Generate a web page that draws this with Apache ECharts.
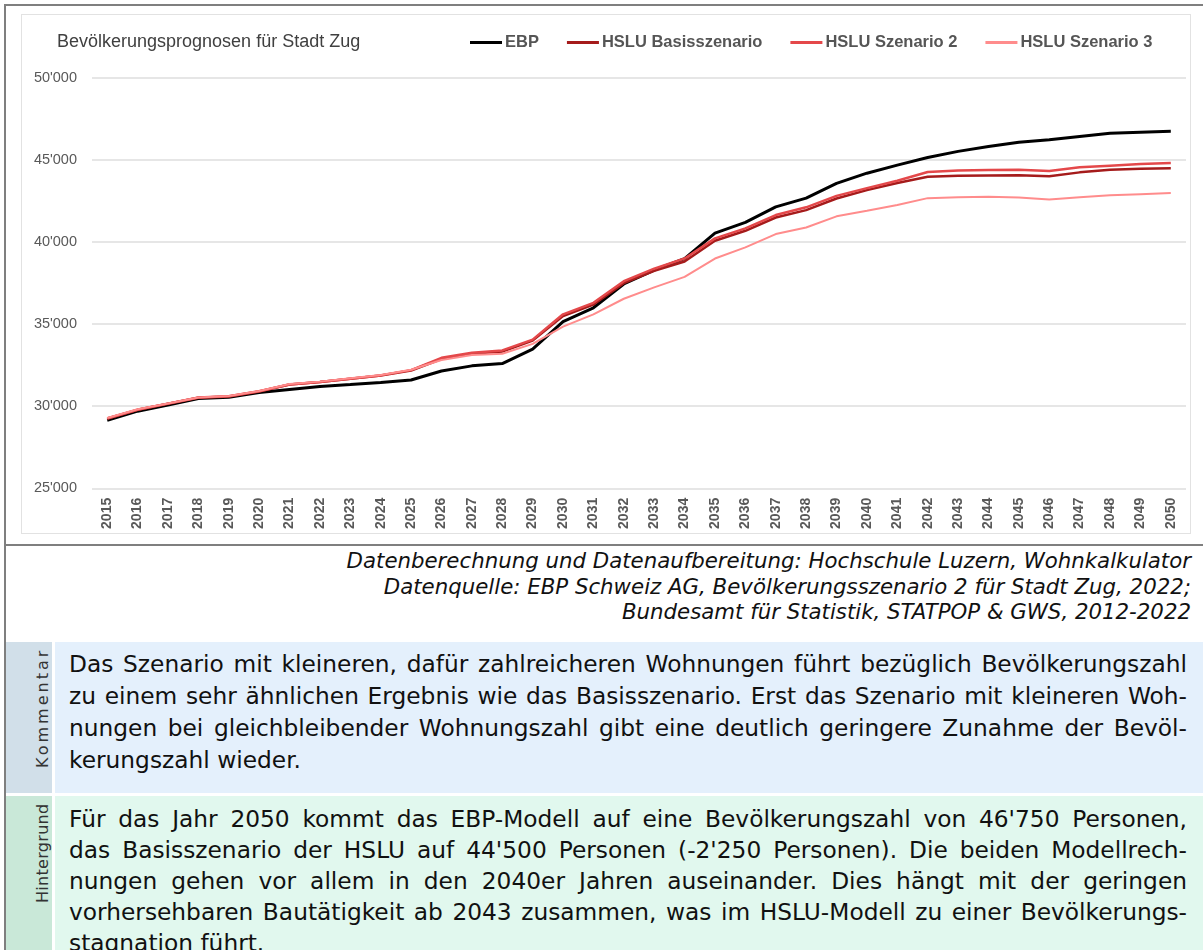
<!DOCTYPE html>
<html>
<head>
<meta charset="utf-8">
<script src="https://cdn.jsdelivr.net/npm/echarts@6/dist/echarts.min.js"></script>
<style>
  html, body { margin: 0; padding: 0; background: #fff; }
  body { width: 1203px; height: 950px; position: relative; overflow: hidden; font-family: "DejaVu Sans", Verdana, sans-serif; color: #111; }
  #topline { position: absolute; left: 4px; top: 4px; width: 1199px; height: 2px; background: #7f7f7f; }
  #midline { position: absolute; left: 4px; top: 544px; width: 1199px; height: 2px; background: #7f7f7f; }
  #leftline { position: absolute; left: 4px; top: 4px; width: 2px; height: 946px; background: #7f7f7f; }
  #chart { position: absolute; left: 21px; top: 14px; width: 1170px; height: 520px; border: 1px solid #e2e2e2; box-sizing: border-box; }
  #source { position: absolute; right: 12px; top: 548px; text-align: right; font-style: italic; font-size: 21.3px; line-height: 25.5px; color: #111; white-space: nowrap; }
  .panel { position: absolute; left: 6px; width: 1197px; }
  .panel .lab { position: absolute; left: 0; top: 0; bottom: 0; width: 46px; }
  .panel .lab span { position: absolute; left: 29px; transform-origin: 0 0; transform: rotate(-90deg); white-space: nowrap; font-size: 16px; line-height: 16px; color: #333; }
  .panel .txt { position: absolute; left: 49px; top: 0; bottom: 0; right: 0; padding: 6px 16px 0 14px; font-size: 23.3px; line-height: 32px; }
  .txt div { white-space: nowrap; text-align: justify; text-align-last: justify; }
  .txt div.last { text-align-last: left; }
  #komm { top: 642px; height: 151px; }
  #komm .lab { background: #d1dfe9; }
  #komm .txt { background: #e4f0fc; }
  #komm .lab span { top: 126px; letter-spacing: 3px; }
  #hint { top: 796px; height: 154px; }
  #hint .lab { background: #c9e8d8; }
  #hint .lab span { top: 107px; letter-spacing: 0.3px; }
  #hint .txt { background: #e1f8ee; line-height: 31px; padding-top: 7px; }
</style>
</head>
<body>
<div id="topline"></div>
<div id="midline"></div>
<div id="leftline"></div>
<div id="chart"></div>
<div id="source">
  Datenberechnung und Datenaufbereitung: Hochschule Luzern, Wohnkalkulator<br>
  Datenquelle: EBP Schweiz AG, Bevölkerungsszenario 2 für Stadt Zug, 2022;<br>
  Bundesamt für Statistik, STATPOP &amp; GWS, 2012-2022
</div>
<div class="panel" id="komm">
  <div class="lab"><span>Kommentar</span></div>
  <div class="txt">
    <div>Das Szenario mit kleineren, dafür zahlreicheren Wohnungen führt bezüglich Bevölkerungszahl</div>
    <div>zu einem sehr ähnlichen Ergebnis wie das Basisszenario. Erst das Szenario mit kleineren Woh-</div>
    <div>nungen bei gleichbleibender Wohnungszahl gibt eine deutlich geringere Zunahme der Bevöl-</div>
    <div class="last">kerungszahl wieder.</div>
  </div>
</div>
<div class="panel" id="hint">
  <div class="lab"><span>Hintergrund</span></div>
  <div class="txt">
    <div>Für das Jahr 2050 kommt das EBP-Modell auf eine Bevölkerungszahl von 46'750 Personen,</div>
    <div>das Basisszenario der HSLU auf 44'500 Personen (-2'250 Personen). Die beiden Modellrech-</div>
    <div>nungen gehen vor allem in den 2040er Jahren auseinander. Dies hängt mit der geringen</div>
    <div>vorhersehbaren Bautätigkeit ab 2043 zusammen, was im HSLU-Modell zu einer Bevölkerungs-</div>
    <div class="last">stagnation führt.</div>
  </div>
</div>
<script>
// Jahre 2015 - 2050
var years = [];
for (var y = 2015; y <= 2050; y++) years.push(String(y));

// Werte
var ebp = [29150, 29700, 30080, 30470, 30550, 30840, 31020, 31200, 31320, 31450, 31600,
  32150, 32460, 32600, 33480, 35150, 36000, 37450, 38300, 39000, 40550,
  41200, 42150, 42680, 43580, 44200, 44690, 45160, 45530, 45830, 46080,
  46240, 46440, 46640, 46700, 46750];
var hsluBasis = [29250, 29780, 30150, 30520, 30600, 30900, 31320, 31470, 31670, 31870, 32180,
  32880, 33200, 33330, 34000, 35500, 36200, 37500, 38250, 38820, 40080,
  40690, 41500, 41950, 42660, 43170, 43600, 43980, 44040, 44060, 44080,
  44020, 44250, 44410, 44470, 44500];
var hsluSz2 = [29250, 29790, 30160, 30530, 30610, 30910, 31330, 31480, 31680, 31880, 32200,
  32950, 33260, 33400, 34060, 35600, 36300, 37620, 38380, 39000, 40230,
  40840, 41650, 42120, 42820, 43290, 43740, 44270, 44370, 44400, 44410,
  44330, 44560, 44660, 44760, 44820];
var hsluSz3 = [29280, 29820, 30170, 30530, 30620, 30930, 31350, 31500, 31700, 31900, 32220,
  32820, 33120, 33200, 33800, 34850, 35600, 36550, 37240, 37880, 39000,
  39680, 40490, 40890, 41570, 41910, 42260, 42680, 42730, 42760, 42720,
  42600, 42740, 42850, 42920, 42990];

var seriesNames = ['EBP', 'HSLU Basisszenario', 'HSLU Szenario 2', 'HSLU Szenario 3'];
var seriesColors = ['#000000', '#a51b1b', '#e4484a', '#ff8c8c'];
var seriesWidths = [3, 2.5, 2.5, 2];
var seriesData = [ebp, hsluBasis, hsluSz2, hsluSz3];

var myChart = echarts.init(document.getElementById('chart'));

var option = {
  animation: false,
  title: {
    text: 'Bevölkerungsprognosen für Stadt Zug',
    left: 35,
    top: 18,
    padding: 0,
    textStyle: { fontFamily: 'Liberation Sans', fontSize: 18, fontWeight: 'normal', color: '#404040' }
  },
  legend: {
    left: 448,
    top: 19,
    padding: 0,
    icon: 'rect',
    itemWidth: 32,
    itemHeight: 3,
    itemGap: 28,
    textStyle: { fontFamily: 'Liberation Sans', fontSize: 16.5, fontWeight: 'bold', color: '#555555', padding: [0, 0, 0, -2] },
    data: seriesNames
  },
  grid: { left: 70, right: 4, top: 63, bottom: 44.7 },
  xAxis: {
    type: 'category',
    boundaryGap: true,
    data: years,
    axisLine: { show: false },
    axisTick: { show: false },
    axisLabel: {
      rotate: 90,
      margin: 9.5,
      fontFamily: 'Liberation Sans',
      fontSize: 14,
      fontWeight: 'bold',
      color: '#595959'
    }
  },
  yAxis: {
    type: 'value',
    min: 25000,
    max: 50000,
    interval: 5000,
    axisLabel: {
      margin: 15,
      fontFamily: 'Liberation Sans',
      fontSize: 14.5,
      color: '#595959',
      formatter: function (v) {
        var s = String(v);
        return s.slice(0, s.length - 3) + "'" + s.slice(-3);
      }
    },
    splitLine: { lineStyle: { color: '#e6e6e6', width: 2 } }
  },
  series: seriesNames.map(function (name, i) {
    return {
      name: name,
      type: 'line',
      data: seriesData[i],
      symbol: 'none',
      color: seriesColors[i],
      lineStyle: { color: seriesColors[i], width: seriesWidths[i] }
    };
  })
};

myChart.setOption(option);
</script>
</body>
</html>
